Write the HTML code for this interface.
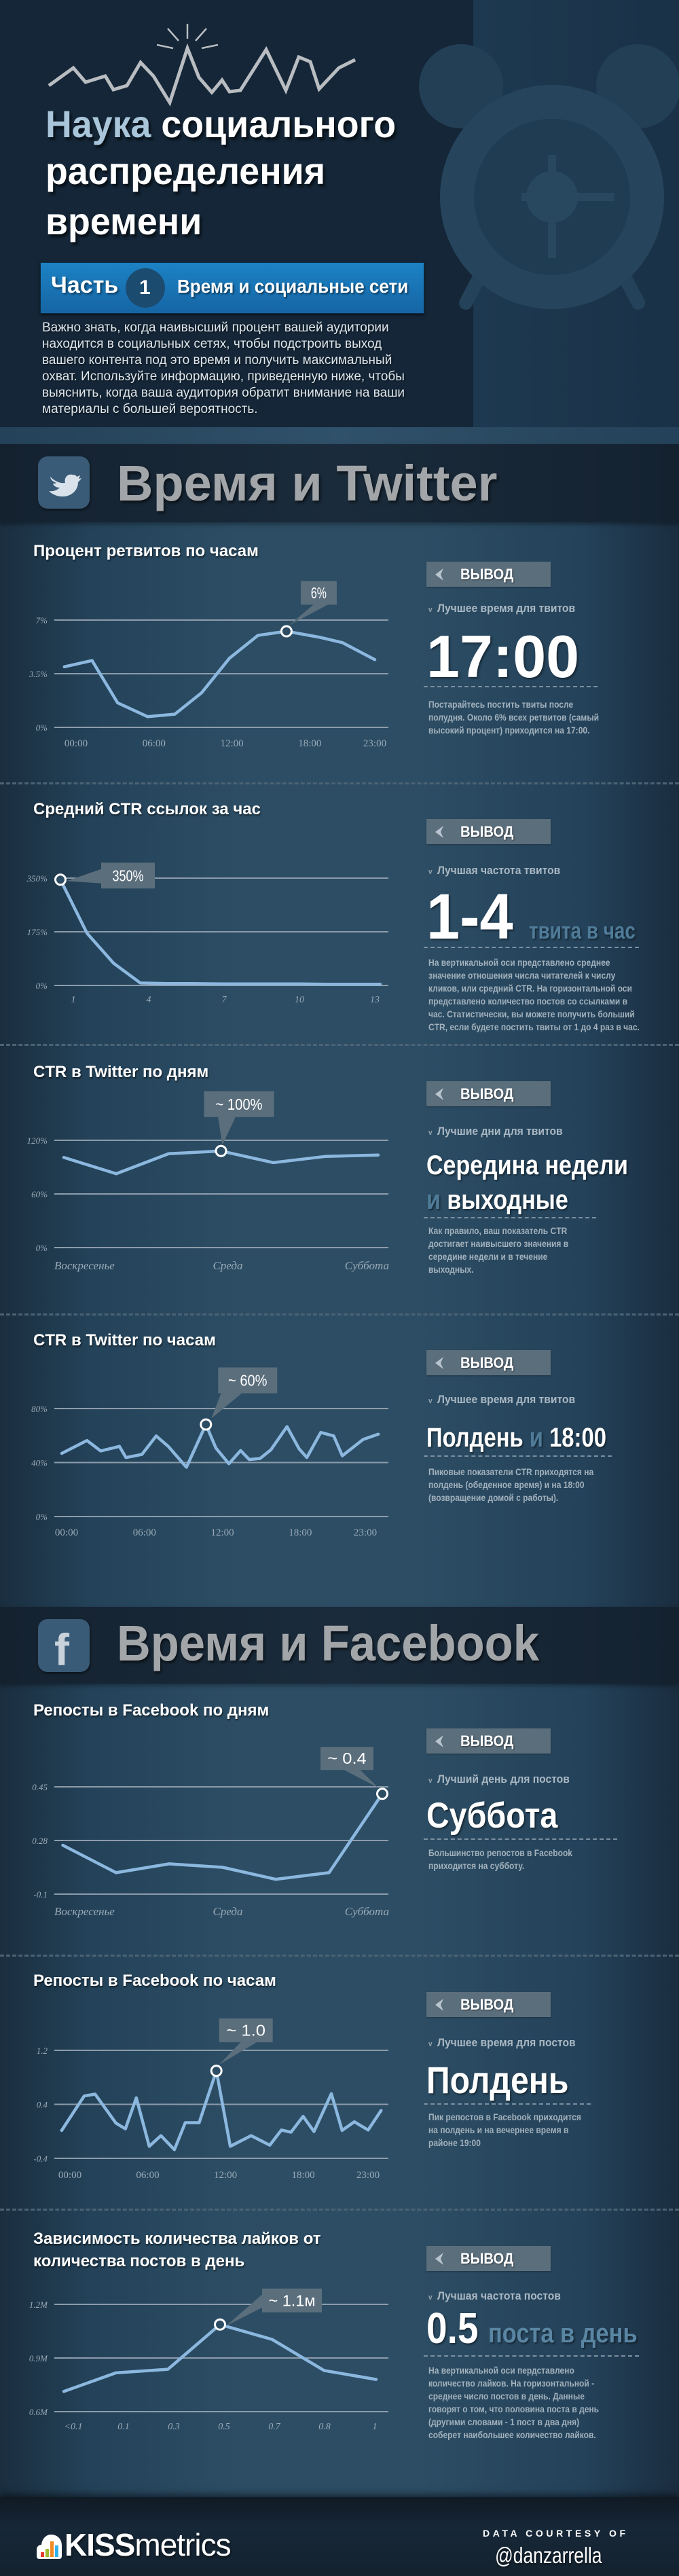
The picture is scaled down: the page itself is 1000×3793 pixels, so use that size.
<!DOCTYPE html>
<html lang="ru">
<head>
<meta charset="utf-8">
<title>Наука социального распределения времени</title>
<style>
*{margin:0;padding:0;box-sizing:border-box}
html,body{width:1000px;height:3793px;overflow:hidden;background:#15222f}
body{position:relative;font-family:"Liberation Sans","Noto Sans CJK SC",sans-serif}
.abs{position:absolute}
.t{position:absolute;white-space:nowrap;line-height:1;font-family:"Liberation Sans","Noto Sans CJK SC",sans-serif;transform-origin:0 0}
.sec-title{left:49px;font-size:24px;font-weight:bold;color:#fff;text-shadow:1px 2px 2px rgba(0,0,0,.55)}
.vyvod{position:absolute;left:628px;width:183px;height:37px;background:#5b6e7c;box-shadow:0 1px 2px rgba(0,0,0,.3)}
.vyvod svg{position:absolute;left:11px;top:9px}
.vyvod span{position:absolute;left:50px;top:8px;font-size:22px;font-weight:bold;color:#fff;line-height:1;text-shadow:1px 1px 2px rgba(0,0,0,.5);transform:scaleX(.92);transform-origin:0 0}
.lbl{left:631px;font-size:17px;font-weight:bold;color:#aab8c3;transform:scaleX(.92)}
.lbl b{font-size:11px;margin-right:8px;color:#93a3af}
.big{left:628px;font-weight:bold;color:#fff;text-shadow:2px 2px 3px rgba(0,0,0,.45)}
.blue{color:#4f7b98}
.desc{left:631px;font-size:14px;font-weight:bold;color:#a2b1bc;line-height:19px;transform:scaleX(.86)}
.dash{position:absolute;height:0;border-top:2px dashed #7b8f9f}
.sep{position:absolute;left:0;width:1000px;height:0;border-top:3px dashed #4c6374}
</style>
</head>
<body>

<!-- HEADER -->
<div class="abs" style="left:0;top:0;width:697px;height:629px;background:#142637"></div>
<div class="abs" style="left:697px;top:0;width:303px;height:629px;background:linear-gradient(90deg,#1d3950,#1a3147)"></div>
<div class="abs" style="left:0;top:629px;width:1000px;height:25px;background:linear-gradient(90deg,#24425a,#2f5169 50%,#24425a)"></div>

<svg class="abs" style="left:0;top:0" width="1000" height="654">
  <g fill="#233f56">
    <circle cx="679" cy="127" r="62"/>
    <circle cx="940" cy="127" r="62"/>
  </g>
  <g stroke="#244259" stroke-width="20" stroke-linecap="round">
    <line x1="705" y1="410" x2="686" y2="446"/>
    <line x1="921" y1="410" x2="940" y2="446"/>
  </g>
  <circle cx="813" cy="290" r="165" fill="#26455d"/>
  <circle cx="813" cy="290" r="115" fill="#1f3c53"/>
  <g stroke="#284860" stroke-width="12">
    <line x1="813" y1="228" x2="813" y2="380"/>
    <line x1="768" y1="290" x2="905" y2="290"/>
  </g>
  <circle cx="813" cy="290" r="38" fill="#284860"/>
  <polyline fill="none" stroke="#b9bdc1" stroke-width="5" stroke-linejoin="miter"
    points="72,126 108,100 126,121 155,112 167,132 187,126 207,92 226,112 250,151 276,71 293,114 312,136 327,118 338,135 354,133 392,73 421,133 440,84 457,91 470,131 499,100 523,88"/>
  <g stroke="#b9bdc1" stroke-width="2.5">
    <line x1="247" y1="42" x2="263" y2="60"/>
    <line x1="276" y1="35" x2="276" y2="57"/>
    <line x1="304" y1="42" x2="288" y2="60"/>
    <line x1="231" y1="66" x2="255" y2="71"/>
    <line x1="321" y1="66" x2="297" y2="71"/>
  </g>
</svg>

<div class="t" style="left:67px;top:155px;font-size:56px;font-weight:bold;color:#fff;text-shadow:3px 4px 4px rgba(0,0,0,.6);transform:scaleX(.96)"><span style="color:#a9c5da">Наука</span> социального</div>
<div class="t" style="left:67px;top:224px;font-size:56px;font-weight:bold;color:#fff;text-shadow:3px 4px 4px rgba(0,0,0,.6);transform:scaleX(.96)">распределения</div>
<div class="t" style="left:67px;top:298px;font-size:56px;font-weight:bold;color:#fff;text-shadow:3px 4px 4px rgba(0,0,0,.6);transform:scaleX(.96)">времени</div>

<div class="abs" style="left:59px;top:386px;width:566px;height:76px;background:linear-gradient(180deg,#1c82c4,#1665a4);border:1px solid #0d2a42;box-shadow:0 2px 4px rgba(0,0,0,.5)"></div>
<div class="t" style="left:75px;top:403px;font-size:34px;font-weight:bold;color:#fff;text-shadow:2px 2px 3px rgba(0,0,0,.5)">Часть</div>
<div class="abs" style="left:185px;top:395px;width:58px;height:58px;border-radius:50%;background:#1c4b70"></div>
<div class="t" style="left:205px;top:409px;font-size:30px;font-weight:bold;color:#fff">1</div>
<div class="t" style="left:261px;top:408px;font-size:28px;font-weight:bold;color:#fff;text-shadow:2px 2px 3px rgba(0,0,0,.5);transform:scaleX(.93)">Время и социальные сети</div>

<div class="t" style="left:62px;top:471px;font-size:19px;line-height:24px;color:#dfe6ec;text-shadow:1px 1px 2px rgba(0,0,0,.6)">Важно знать, когда наивысший процент вашей аудитории<br>находится в социальных сетях, чтобы подстроить выход<br>вашего контента под это время и получить максимальный<br>охват. Используйте информацию, приведенную ниже, чтобы<br>выяснить, когда ваша аудитория обратит внимание на ваши<br>материалы с большей вероятность.</div>

<!-- BODY BACKGROUND -->
<div class="abs" style="left:0;top:654px;width:1000px;height:3023px;background:linear-gradient(90deg,#1a2e3f 0%,#24435a 14%,#2c4d64 35%,#2c4d64 62%,#24425a 86%,#1a2d3f 100%)"></div>

<!-- TWITTER BAND -->
<div class="abs" style="left:0;top:654px;width:1000px;height:115px;background:linear-gradient(90deg,#142230,#1a2b3b 50%,#142230);box-shadow:0 3px 6px rgba(0,0,0,.35)"></div>
<div class="abs" style="left:56px;top:672px;width:76px;height:77px;border-radius:14px;background:#3a5b77;box-shadow:1px 2px 3px rgba(0,0,0,.5)">
  <svg width="76" height="77" viewBox="0 0 76 77"><path d="M18 30 C26 38 34 40 40 39 C38 31 44 25 51 27 C54 27 56 28 57 30 L62 28 L60 33 L64 32 C62 35 60 37 59 38 C59 52 46 60 35 59 C27 59 20 55 16 51 C24 52 29 49 32 46 C26 46 23 43 22 40 C24 40 26 40 27 39 C21 37 18 33 18 30 Z" fill="#d9e2ea"/></svg>
</div>
<div class="t" style="left:172px;top:675px;font-size:74px;font-weight:bold;color:#a3a6a9;text-shadow:2px 3px 4px rgba(0,0,0,.6)">Время и Twitter</div>

<!-- FACEBOOK BAND -->
<div class="abs" style="left:0;top:2366px;width:1000px;height:113px;background:linear-gradient(90deg,#142230,#1a2b3b 50%,#142230);box-shadow:0 3px 6px rgba(0,0,0,.35)"></div>
<div class="abs" style="left:56px;top:2384px;width:76px;height:78px;border-radius:14px;background:#3a5b77;box-shadow:1px 2px 3px rgba(0,0,0,.5)"></div>
<div class="t" style="left:80px;top:2396px;font-size:66px;font-weight:bold;color:#c9d2da;font-family:'Liberation Sans',sans-serif">f</div>
<div class="t" style="left:172px;top:2383px;font-size:74px;font-weight:bold;color:#a3a6a9;text-shadow:2px 3px 4px rgba(0,0,0,.6);transform:scaleX(.93)">Время и Facebook</div>

<!-- SEPARATORS -->
<div class="sep" style="top:1152px"></div>
<div class="sep" style="top:1537px"></div>
<div class="sep" style="top:1934px"></div>
<div class="sep" style="top:2878px"></div>
<div class="sep" style="top:3252px"></div>

<!-- SECTION TITLES -->
<div class="t sec-title" style="top:800px">Процент ретвитов по часам</div>
<div class="t sec-title" style="top:1180px">Средний CTR ссылок за час</div>
<div class="t sec-title" style="top:1567px">CTR в Twitter по дням</div>
<div class="t sec-title" style="top:1962px">CTR в Twitter по часам</div>
<div class="t sec-title" style="top:2507px">Репосты в Facebook по дням</div>
<div class="t sec-title" style="top:2905px">Репосты в Facebook по часам</div>
<div class="t sec-title" style="top:3280px;line-height:33px">Зависимость количества лайков от<br>количества постов в день</div>

<!-- CONCLUSION 1 -->
<div class="vyvod" style="top:827px"><svg width="16" height="20"><polygon points="14,1 2,10 14,19 10,10" fill="#b9c5ce"/></svg><span>ВЫВОД</span></div>
<div class="t lbl" style="top:887px"><b>v</b>Лучшее время для твитов</div>
<div class="t big" style="top:923px;font-size:88px">17:00</div>
<div class="dash" style="left:624px;width:256px;top:1010px"></div>
<div class="t desc" style="top:1028px">Постарайтесь постить твиты после<br>полудня. Около 6% всех ретвитов (самый<br>высокий процент) приходится на 17:00.</div>

<!-- CONCLUSION 2 -->
<div class="vyvod" style="top:1206px"><svg width="16" height="20"><polygon points="14,1 2,10 14,19 10,10" fill="#b9c5ce"/></svg><span>ВЫВОД</span></div>
<div class="t lbl" style="top:1273px"><b>v</b>Лучшая частота твитов</div>
<div class="t big" style="top:1303px;font-size:95px;transform:scaleX(.93)">1-4</div>
<div class="t big blue" style="left:779px;top:1354px;font-size:34px;color:#4f7b98;transform:scaleX(.82)">твита в час</div>
<div class="dash" style="left:624px;width:317px;top:1394px"></div>
<div class="t desc" style="top:1408px">На вертикальной оси представлено среднее<br>значение отношения числа читателей к числу<br>кликов, или средний CTR. На горизонтальной оси<br>представлено количество постов со ссылками в<br>час. Статистически, вы можете получить больший<br>CTR, если будете постить твиты от 1 до 4 раз в час.</div>

<!-- CONCLUSION 3 -->
<div class="vyvod" style="top:1592px"><svg width="16" height="20"><polygon points="14,1 2,10 14,19 10,10" fill="#b9c5ce"/></svg><span>ВЫВОД</span></div>
<div class="t lbl" style="top:1657px"><b>v</b>Лучшие дни для твитов</div>
<div class="t big" style="top:1696px;font-size:40px;transform:scaleX(.85)">Середина недели</div>
<div class="t big" style="top:1747px;font-size:40px;transform:scaleX(.85)"><span class="blue">и</span> выходные</div>
<div class="dash" style="left:624px;width:254px;top:1792px"></div>
<div class="t desc" style="top:1803px">Как правило, ваш показатель CTR<br>достигает наивысшего значения в<br>середине недели и в течение<br>выходных.</div>

<!-- CONCLUSION 4 -->
<div class="vyvod" style="top:1988px"><svg width="16" height="20"><polygon points="14,1 2,10 14,19 10,10" fill="#b9c5ce"/></svg><span>ВЫВОД</span></div>
<div class="t lbl" style="top:2052px"><b>v</b>Лучшее время для твитов</div>
<div class="t big" style="top:2097px;font-size:40px;transform:scaleX(.82)">Полдень <span class="blue">и</span> 18:00</div>
<div class="dash" style="left:624px;width:277px;top:2143px"></div>
<div class="t desc" style="top:2158px">Пиковые показатели CTR приходятся на<br>полдень (обеденное время) и на 18:00<br>(возвращение домой с работы).</div>

<!-- CONCLUSION 5 -->
<div class="vyvod" style="top:2545px"><svg width="16" height="20"><polygon points="14,1 2,10 14,19 10,10" fill="#b9c5ce"/></svg><span>ВЫВОД</span></div>
<div class="t lbl" style="top:2611px"><b>v</b>Лучший день для постов</div>
<div class="t big" style="top:2647px;font-size:53px;transform:scaleX(.88)">Суббота</div>
<div class="dash" style="left:624px;width:285px;top:2707px"></div>
<div class="t desc" style="top:2719px">Большинство репостов в Facebook<br>приходится на субботу.</div>

<!-- CONCLUSION 6 -->
<div class="vyvod" style="top:2933px"><svg width="16" height="20"><polygon points="14,1 2,10 14,19 10,10" fill="#b9c5ce"/></svg><span>ВЫВОД</span></div>
<div class="t lbl" style="top:2999px"><b>v</b>Лучшее время для постов</div>
<div class="t big" style="top:3035px;font-size:56px;transform:scaleX(.86)">Полдень</div>
<div class="dash" style="left:624px;width:246px;top:3097px"></div>
<div class="t desc" style="top:3108px">Пик репостов в Facebook приходится<br>на полдень и на вечернее время в<br>районе 19:00</div>

<!-- CONCLUSION 7 -->
<div class="vyvod" style="top:3307px"><svg width="16" height="20"><polygon points="14,1 2,10 14,19 10,10" fill="#b9c5ce"/></svg><span>ВЫВОД</span></div>
<div class="t lbl" style="top:3372px"><b>v</b>Лучшая частота постов</div>
<div class="t big" style="top:3396px;font-size:64px;transform:scaleX(.86)">0.5</div>
<div class="t big blue" style="left:719px;top:3416px;font-size:40px;color:#5a86a3;transform:scaleX(.86)">поста в день</div>
<div class="dash" style="left:624px;width:317px;top:3468px"></div>
<div class="t desc" style="top:3481px">На вертикальной оси пердставлено<br>количество лайков. На горизонтальной -<br>среднее число постов в день. Данные<br>говорят о том, что половина поста в день<br>(другими словами - 1 пост в два дня)<br>соберет наибольшее количество лайков.</div>

<!-- FOOTER -->
<div class="abs" style="left:0;top:3677px;width:1000px;height:116px;background:linear-gradient(180deg,#101a24,#162737 40%,#14222f);box-shadow:0 -4px 10px rgba(0,0,0,.5)"></div>
<svg class="abs" style="left:54px;top:3728px" width="40" height="44" viewBox="0 0 40 44">
  <path d="M4 40 C1 40 0 38 0 35 L0 26 C0 22 3 19 7 19 C8 10 14 4 21 4 C31 4 37 11 37 20 L37 35 C37 38 36 40 33 40 Z" fill="#fff"/>
  <rect x="6" y="30" width="5" height="7" fill="#e53a2e"/>
  <rect x="13" y="25" width="5" height="12" fill="#9dbb2e"/>
  <rect x="20" y="14" width="5" height="23" fill="#f08a24"/>
  <rect x="27" y="20" width="5" height="17" fill="#2fb3e8"/>
</svg>
<div class="t" style="left:95px;top:3724px;font-size:46px;color:#fff;text-shadow:1px 2px 3px rgba(0,0,0,.6);letter-spacing:-1px"><b>KISS</b>metrics</div>
<div class="t" style="left:711px;top:3723px;font-size:14px;font-weight:bold;color:#fff;letter-spacing:4.6px">DATA COURTESY OF</div>
<div class="t" style="left:729px;top:3746px;font-size:33px;color:#fff;transform:scaleX(.8);text-shadow:1px 2px 3px rgba(0,0,0,.5)">@danzarrella</div>

<!-- CHARTS -->
<svg id="charts" class="abs" style="left:0;top:0" width="1000" height="3793"></svg>

<script>
// Chart 1: retweet percent by hour
const c1Hours = [-0.9, 1.23, 3.2, 5.5, 7.6, 9.67, 11.8, 14.0, 16.2, 18.8, 20.5, 23];
const c1Values = [3.95, 4.36, 1.6, 0.7, 0.86, 2.26, 4.5, 6.0, 6.27, 5.87, 5.53, 4.42];
const c1YTicks = [0, 3.5, 7];
const c1YLabels = ['0%', '3.5%', '7%'];
const c1XTicks = [0, 6, 12, 18, 23];
const c1XLabels = ['00:00', '06:00', '12:00', '18:00', '23:00'];
const c1Peak = 8;
const c1Callout = '6%';

// Chart 2: average CTR by posts per hour
const c2Posts = [1, 2, 3, 4, 5, 6, 7, 8, 9, 10, 11, 12, 13];
const c2Values = [345, 170, 72, 8, 6, 6, 5, 5, 5, 5, 4, 4, 4];
const c2YTicks = [0, 175, 350];
const c2YLabels = ['0%', '175%', '350%'];
const c2XTicks = [1, 4, 7, 10, 13];
const c2XLabels = ['1', '4', '7', '10', '13'];
const c2Peak = 0;
const c2Callout = '350%';

// Chart 3: Twitter CTR by day
const c3Days = ['Воскресенье', 'Понедельник', 'Вторник', 'Среда', 'Четверг', 'Пятница', 'Суббота'];
const c3Values = [100.8, 82.6, 105, 108, 95, 102, 103.5];
const c3YTicks = [0, 60, 120];
const c3YLabels = ['0%', '60%', '120%'];
const c3XTicks = [0, 3, 6];
const c3XLabels = ['Воскресенье', 'Среда', 'Суббота'];
const c3Peak = 3;
const c3Callout = '~ 100%';

// Chart 4: Twitter CTR by hour
const c4Hours = [-0.37, 1.57, 2.63, 4.07, 4.57, 5.8, 6.9, 7.83, 9.23, 10.73, 11.5, 12.5, 13.4, 14.07, 14.9, 15.73, 16.97, 17.9, 18.5, 19.57, 20.57, 21.23, 22.83, 24];
const c4Values = [46.8, 56.3, 48.6, 52, 43.7, 46, 59.7, 52, 36.5, 68.2, 50.7, 39.1, 48.9, 42.2, 43, 49.4, 66.6, 50.2, 43.7, 62.3, 59.7, 45, 57.1, 61];
const c4YTicks = [0, 40, 80];
const c4YLabels = ['0%', '40%', '80%'];
const c4XTicks = [0, 6, 12, 18, 23];
const c4XLabels = ['00:00', '06:00', '12:00', '18:00', '23:00'];
const c4Peak = 9;
const c4Callout = '~ 60%';

// Chart 5: Facebook shares by day
const c5Days = ['Воскресенье', 'Понедельник', 'Вторник', 'Среда', 'Четверг', 'Пятница', 'Суббота'];
const c5Values = [0.265, 0.178, 0.206, 0.195, 0.157, 0.178, 0.428];
const c5YTicks = [0.11, 0.28, 0.45];
const c5YLabels = ['-0.1', '0.28', '0.45'];
const c5XTicks = [0, 3, 6];
const c5XLabels = ['Воскресенье', 'Среда', 'Суббота'];
const c5Peak = 6;
const c5Callout = '~ 0.4';

// Chart 6: Facebook shares by hour
const c6Hours = [-0.64, 1.1, 1.94, 3.55, 4.28, 5.12, 6.12, 7.02, 8.06, 8.9, 9.97, 11.3, 12.37, 13.98, 15.42, 16.32, 17.06, 17.99, 18.83, 20.17, 21, 21.94, 23.01, 24.01];
const c6Values = [0.013, 0.524, 0.551, 0.121, 0.037, 0.497, -0.222, -0.064, -0.272, 0.128, 0.128, 0.897, -0.222, -0.064, -0.205, 0.02, -0.013, 0.222, -0.003, 0.558, 0.013, 0.141, 0.02, 0.309];
const c6YTicks = [-0.4, 0.4, 1.2];
const c6YLabels = ['-0.4', '0.4', '1.2'];
const c6XTicks = [0, 6, 12, 18, 23];
const c6XLabels = ['00:00', '06:00', '12:00', '18:00', '23:00'];
const c6Peak = 11;
const c6Callout = '~ 1.0';

// Chart 7: likes vs posts per day
const c7Categories = ['<0.1', '0.1', '0.3', '0.5', '0.7', '0.8', '1'];
const c7Values = [0.713, 0.817, 0.837, 1.087, 1.004, 0.83, 0.78];
const c7YTicks = [0.6, 0.9, 1.2];
const c7YLabels = ['0.6M', '0.9M', '1.2M'];
const c7XTicks = [0, 1, 2, 3, 4, 5, 6];
const c7XLabels = ['<0.1', '0.1', '0.3', '0.5', '0.7', '0.8', '1'];
const c7Peak = 3;
const c7Callout = '~ 1.1м';

const NS = 'http://www.w3.org/2000/svg';
const root = document.getElementById('charts');
function el(tag, attrs, parent) {
  const e = document.createElementNS(NS, tag);
  for (const k in attrs) e.setAttribute(k, attrs[k]);
  (parent || root).appendChild(e);
  return e;
}
function lin(d0, d1, r0, r1) { return v => r0 + (v - d0) * (r1 - r0) / (d1 - d0); }

function drawChart(o) {
  const g = el('g', {});
  
  
  o.yTicks.forEach((t, i) => {
    const y = o.y(t);
    const ln = el('line', {x1: 80, x2: 572, y1: y, y2: y, stroke: '#8d9caa', 'stroke-width': 2}, g);
    
    
    const tx = el('text', {x: 70, y: y + 5, 'text-anchor': 'end', 'font-family': 'Liberation Serif, serif', 'font-style': 'italic', 'font-size': 13, fill: '#9aaab6'}, g);
    tx.textContent = o.yLabels[i];
    
    
  });
  o.xTicks.forEach((t, i) => {
    const tx = el('text', {x: o.xl(t) + (o.dx ? o.dx[i] : 0), y: o.xLabelY, 'text-anchor': o.anchors ? o.anchors[i] : 'middle', 'font-family': 'Liberation Serif, serif', 'font-style': o.italic ? 'italic' : 'normal', 'font-size': o.xfs || 15, fill: '#9aaab6'}, g);
    tx.textContent = o.xLabels[i];
    
    
  });
  const pts = o.xs.map((x, i) => o.x(x) + ',' + o.y(o.vals[i])).join(' ');
  const pl = el('polyline', {points: pts, fill: 'none', stroke: '#8cb8df', 'stroke-width': 4.5, 'stroke-linejoin': 'round', 'stroke-linecap': 'round'}, g);
  
  
  const px = o.x(o.xs[o.peak]), py = o.y(o.vals[o.peak]);
  const bx = px + o.box[0], by = py + o.box[1], bw = o.box[2], bh = o.box[3];
  let tri;
  if (o.side === 'left') {
    tri = [[bx, by + bh * 0.25], [bx, by + bh * 0.8], [px + 9, py + 2]];
  } else {
    tri = [[bx + bw * o.tb[0], by + bh], [bx + bw * o.tb[1], by + bh], [px + (o.tipDx || 0), py - 9]];
  }
  const tr = el('polygon', {points: tri.map(p => p.join(',')).join(' '), fill: '#5b6e7c'}, g);
  
  
  const rc = el('rect', {x: bx, y: by, width: bw, height: bh, fill: '#5b6e7c'}, g);
  
  
  const ct = el('text', {x: bx + bw / 2, y: by + bh / 2 + 8, 'text-anchor': 'middle', 'font-family': 'Liberation Sans, sans-serif', 'font-size': 23, fill: '#fff', textLength: Math.min(bw - 16, o.callout.length * 11.5), lengthAdjust: 'spacingAndGlyphs'}, g);
  ct.textContent = o.callout;
  
  
  const c = el('circle', {cx: px, cy: py, r: 7.5, fill: '#2d4d64', stroke: '#fff', 'stroke-width': 3}, g);
  
  
}

drawChart({name: 'retweets-by-hour-chart', xs: c1Hours, vals: c1Values, peak: c1Peak, callout: c1Callout,
  x: lin(0, 23, 112, 552), xl: lin(0, 23, 112, 552), y: lin(0, 7, 1071, 913),
  yTicks: c1YTicks, yLabels: c1YLabels, xTicks: c1XTicks, xLabels: c1XLabels, xLabelY: 1099,
  box: [21, -74, 53, 35], side: 'bottom', tb: [0.35, 0.75], tipDx: 4});

drawChart({name: 'ctr-per-hour-links-chart', xs: c2Posts, vals: c2Values, peak: c2Peak, callout: c2Callout,
  x: lin(1, 13, 89, 560), xl: lin(1, 13, 108, 552), y: lin(0, 350, 1451, 1293),
  yTicks: c2YTicks, yLabels: c2YLabels, xTicks: c2XTicks, xLabels: c2XLabels, xLabelY: 1476, italic: true, xfs: 14,
  box: [60, -25, 79, 38], side: 'left'});

drawChart({name: 'twitter-ctr-by-day-chart', xs: c3Days.map((d, i) => i), vals: c3Values, peak: c3Peak, callout: c3Callout,
  x: lin(0, 6, 94, 557), xl: lin(0, 6, 94, 557), y: lin(0, 120, 1837, 1679),
  yTicks: c3YTicks, yLabels: c3YLabels, xTicks: c3XTicks, xLabels: c3XLabels, xLabelY: 1869, italic: true, xfs: 17,
  anchors: ['start', 'middle', 'end'], dx: [-14, 10, 16],
  box: [-25, -88, 103, 38], side: 'bottom', tb: [0.2, 0.45], tipDx: 2});

drawChart({name: 'twitter-ctr-by-hour-chart', xs: c4Hours, vals: c4Values, peak: c4Peak, callout: c4Callout,
  x: lin(0, 23, 98, 538), xl: lin(0, 23, 98, 538), y: lin(0, 80, 2233, 2074),
  yTicks: c4YTicks, yLabels: c4YLabels, xTicks: c4XTicks, xLabels: c4XLabels, xLabelY: 2261,
  box: [18, -84, 87, 38], side: 'bottom', tb: [0.05, 0.4], tipDx: 8});

drawChart({name: 'facebook-shares-by-day-chart', xs: c5Days.map((d, i) => i), vals: c5Values, peak: c5Peak, callout: c5Callout,
  x: lin(0, 6, 92.5, 563), xl: lin(0, 6, 94, 557), y: lin(0.11, 0.45, 2789, 2631),
  yTicks: c5YTicks, yLabels: c5YLabels, xTicks: c5XTicks, xLabels: c5XLabels, xLabelY: 2820, italic: true, xfs: 17,
  anchors: ['start', 'middle', 'end'], dx: [-14, 10, 16],
  box: [-91, -69, 78, 34], side: 'bottom', tb: [0.45, 0.75], tipDx: -6});

drawChart({name: 'facebook-shares-by-hour-chart', xs: c6Hours, vals: c6Values, peak: c6Peak, callout: c6Callout,
  x: lin(0, 23, 103, 542), xl: lin(0, 23, 103, 542), y: lin(-0.4, 1.2, 3178, 3019),
  yTicks: c6YTicks, yLabels: c6YLabels, xTicks: c6XTicks, xLabels: c6XLabels, xLabelY: 3207,
  box: [4, -77, 79, 35], side: 'bottom', tb: [0.4, 0.7], tipDx: 4});

drawChart({name: 'likes-vs-posts-chart', xs: c7Categories.map((d, i) => i), vals: c7Values, peak: c7Peak, callout: c7Callout,
  x: lin(0, 6, 94, 554), xl: lin(0, 6, 108, 552), y: lin(0.6, 1.2, 3551, 3393),
  yTicks: c7YTicks, yLabels: c7YLabels, xTicks: c7XTicks, xLabels: c7XLabels, xLabelY: 3577, italic: true, xfs: 14,
  box: [62, -53, 88, 35], side: 'left'});
</script>
</body>
</html>
